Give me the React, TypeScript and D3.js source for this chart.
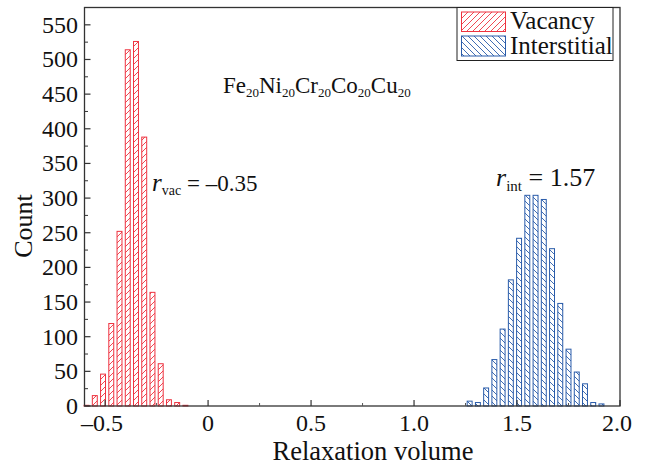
import React from "react";
import * as d3 from "d3";

const vacCenters = [-0.59, -0.55, -0.51, -0.47, -0.43, -0.39, -0.35, -0.31, -0.27, -0.23, -0.19, -0.15, -0.11];
const vacCounts = [1, 15, 46, 119, 252, 514, 526, 388, 164, 61, 9, 5, 1];
const intCenters = [1.27, 1.31, 1.35, 1.39, 1.43, 1.47, 1.51, 1.55, 1.59, 1.63, 1.67, 1.71, 1.75, 1.79, 1.83, 1.87, 1.91];
const intCounts = [7, 5, 26, 67, 111, 182, 242, 304, 304, 298, 227, 148, 82, 49, 32, 5, 3];
const binWidth = 0.04;

const xMajorTicks = [-0.5, 0, 0.5, 1.0, 1.5, 2.0];
const xTickLabels = ["\u20130.5", "0", "0.5", "1.0", "1.5", "2.0"];
const xMinorTicks = [-0.25, 0.25, 0.75, 1.25, 1.75];
const yMajorTicks = [0, 50, 100, 150, 200, 250, 300, 350, 400, 450, 500, 550];
const yMinorTicks = [25, 75, 125, 175, 225, 275, 325, 375, 425, 475, 525];

const seriesNames = ["Vacancy", "Interstitial"];
const RED = "#ee3340";
const BLUE = "#2a5caa";
const FONT = "'Liberation Serif', 'Times New Roman', serif";

const W = 646, H = 465;
const L = 84.5, R = 620, T = 7.5, B = 406;

export default function App() {
  const x = d3.scaleLinear().domain([-0.6, 2.0]).range([L, R]);
  const y = d3.scaleLinear().domain([0, 575]).range([B, T]);
  const half = binWidth * 0.3;

  const bars = (centers: number[], counts: number[], color: string, pat: string) =>
    centers.map((c, i) => {
      const x0 = x(c - half), x1 = x(c + half);
      const y0 = y(counts[i]);
      return (
        <rect key={pat + i} x={x0} y={y0} width={x1 - x0} height={Math.max(0.5, B - y0)}
          fill={`url(#${pat})`} stroke={color} strokeWidth={1} />
      );
    });

  return (
    <svg width={W} height={H} style={{ position: "absolute", left: 0, top: 0, background: "#fff" }}
      fontFamily={FONT}>
      <defs>
        <pattern id="hatchRed" patternUnits="userSpaceOnUse" width={6} height={6}>
          <rect width={6} height={6} fill="#fff" />
          <line x1={-1} y1={7} x2={7} y2={-1} stroke={RED} strokeWidth={0.9} />
        </pattern>
        <pattern id="hatchBlue" patternUnits="userSpaceOnUse" width={6} height={6}>
          <rect width={6} height={6} fill="#fff" />
          <line x1={-1} y1={-1} x2={7} y2={7} stroke={BLUE} strokeWidth={0.9} />
        </pattern>
      </defs>
      <rect x={0} y={0} width={W} height={H} fill="#fff" />

      {bars(vacCenters, vacCounts, RED, "hatchRed")}
      {bars(intCenters, intCounts, BLUE, "hatchBlue")}

      {/* frame */}
      <rect x={L} y={T} width={R - L} height={B - T} fill="none" stroke="#333" strokeWidth={1.3} />

      {/* y ticks */}
      {yMajorTicks.map((v) => (
        <g key={"ym" + v}>
          <line x1={L} x2={L + 6} y1={y(v)} y2={y(v)} stroke="#333" strokeWidth={1.2} />
          <text x={78} y={y(v) + 8} textAnchor="end" fontSize={24} fill="#111">{v}</text>
        </g>
      ))}
      {yMinorTicks.map((v) => (
        <line key={"yn" + v} x1={L} x2={L + 3.5} y1={y(v)} y2={y(v)} stroke="#333" strokeWidth={1} />
      ))}

      {/* x ticks */}
      {xMajorTicks.map((v, i) => (
        <g key={"xm" + v}>
          <line x1={x(v)} x2={x(v)} y1={B} y2={B - 6} stroke="#333" strokeWidth={1.2} />
          <text x={x(v) - (i === 0 ? 3 : 0) - (i === xMajorTicks.length - 1 ? 3 : 0)} y={431}
            textAnchor="middle" fontSize={24} fill="#111">{xTickLabels[i]}</text>
        </g>
      ))}
      {xMinorTicks.map((v) => (
        <line key={"xn" + v} x1={x(v)} x2={x(v)} y1={B} y2={B - 3} stroke="#555" strokeWidth={1} />
      ))}

      {/* axis titles */}
      <text x={373} y={460} textAnchor="middle" fontSize={26.5} fill="#111">Relaxation volume</text>
      <text transform="translate(32,226) rotate(-90)" textAnchor="middle" fontSize={26} fill="#111">Count</text>

      {/* composition title */}
      <text x={223} y={93} fontSize={23} fill="#111">
        Fe<tspan fontSize={13} dy={4}>20</tspan>
        <tspan dy={-4}>Ni</tspan><tspan fontSize={13} dy={4}>20</tspan>
        <tspan dy={-4}>Cr</tspan><tspan fontSize={13} dy={4}>20</tspan>
        <tspan dy={-4}>Co</tspan><tspan fontSize={13} dy={4}>20</tspan>
        <tspan dy={-4}>Cu</tspan><tspan fontSize={13} dy={4}>20</tspan>
      </text>

      {/* annotations */}
      <text x={152} y={191} fontSize={23} fill="#111">
        <tspan fontStyle="italic" fontSize={25}>r</tspan>
        <tspan fontSize={14} dy={4}>vac</tspan>
        <tspan dy={-4}> = {"\u20130.35"}</tspan>
      </text>
      <text x={496} y={186} fontSize={26} fill="#111">
        <tspan fontStyle="italic">r</tspan>
        <tspan fontSize={15} dy={5}>int</tspan>
        <tspan dy={-5}> = 1.57</tspan>
      </text>

      {/* legend */}
      <rect x={457} y={7.5} width={156} height={53} fill="#fff" stroke="#222" strokeWidth={1} />
      <rect x={461.5} y={12} width={44} height={19.5} fill="url(#hatchRed)" stroke={RED} strokeWidth={1} />
      <rect x={461.5} y={36} width={44} height={20} fill="url(#hatchBlue)" stroke={BLUE} strokeWidth={1} />
      <text x={510} y={29} fontSize={25} fill="#111">{seriesNames[0]}</text>
      <text x={510} y={54} fontSize={25} fill="#111">{seriesNames[1]}</text>
    </svg>
  );
}
